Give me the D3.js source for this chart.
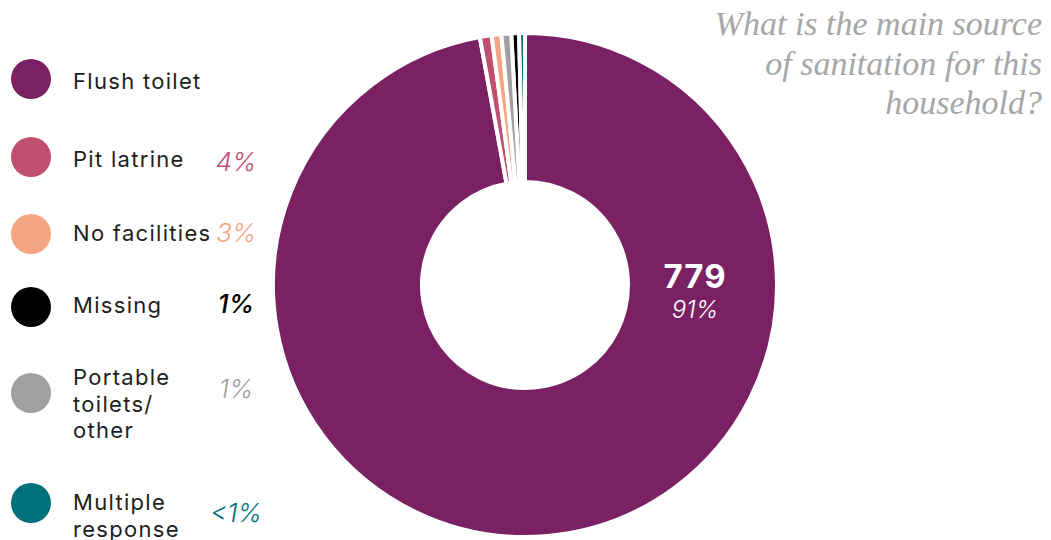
<!DOCTYPE html>
<html>
<head>
<meta charset="utf-8">
<title>Main source of sanitation</title>
<script src="https://cdn.jsdelivr.net/npm/d3@7"></script>
<style>
  body { margin: 0; background: #fff; }
  svg { display: block; }
  .lbl { font-family: Inter, "Noto Sans", sans-serif; font-size: 22px; letter-spacing: 1.3px; fill: #1e1e1e; }
  .pct { font-family: Inter, "Noto Sans", sans-serif; font-size: 26px; font-style: italic; font-weight: 300; }
  .title { font-family: "Liberation Serif", serif; font-style: italic; font-size: 34px; fill: #a6a6a6; }
</style>
</head>
<body>
<script>
// chart data
const categories = ['Flush toilet', 'Pit latrine', 'No facilities', 'Missing', 'Portable toilets/ other', 'Multiple response'];
const labelLines = [['Flush toilet'], ['Pit latrine'], ['No facilities'], ['Missing'], ['Portable', 'toilets/', 'other'], ['Multiple', 'response']];
const counts = [779, 6, 5, 4, 5, 3];
const pctLabels = ['91%', '4%', '3%', '1%', '1%', '<1%'];
const colors = ['#7a2163', '#c0506f', '#f5a582', '#000000', '#a0a0a0', '#00707a'];
// order the slices run clockwise from 12 o'clock
const sliceOrder = ['Flush toilet', 'Pit latrine', 'No facilities', 'Portable toilets/ other', 'Missing', 'Multiple response'];
const titleLines = ['What is the main source', 'of sanitation for this', 'household?'];

const W = 1051, H = 540;
const svg = d3.select('body').append('svg').attr('width', W).attr('height', H);

const data = categories.map((c, i) => ({ name: c, value: counts[i], color: colors[i], pct: pctLabels[i], lines: labelLines[i] }));

// donut
const cx = 525, cy = 285;
const pie = d3.pie()
  .sort((a, b) => sliceOrder.indexOf(a.name) - sliceOrder.indexOf(b.name))
  .value(d => d.value);
const arc = d3.arc().innerRadius(103).outerRadius(252);

const g = svg.append('g').attr('transform', `translate(${cx},${cy})`);
g.selectAll('path')
  .data(pie(data))
  .join('path')
  .attr('d', arc)
  .attr('fill', d => d.data.color)
  .attr('stroke', '#fff')
  .attr('stroke-width', 4);

// big label on the flush slice, right side of the ring
const labelArc = d3.arc().innerRadius(170).outerRadius(170);
const lp = labelArc.centroid({ startAngle: Math.PI / 2, endAngle: Math.PI / 2 });
g.append('text')
  .attr('x', lp[0]).attr('y', lp[1] + 3)
  .attr('text-anchor', 'middle')
  .style('font-family', 'Inter, "Noto Sans", sans-serif')
  .style('font-weight', 700)
  .style('font-size', '33px')
  .style('letter-spacing', '1px')
  .style('fill', '#fff')
  .text(counts[0]);
g.append('text')
  .attr('x', lp[0]).attr('y', lp[1] + 33)
  .attr('text-anchor', 'middle')
  .style('font-family', 'Inter, "Noto Sans", sans-serif')
  .style('font-style', 'italic')
  .style('font-weight', 300)
  .style('font-size', '24px')
  .style('fill', '#fff')
  .text(pctLabels[0]);

// legend
const legendY = [79, 157, 234, 307, 393, 503];
const textY = [89, 167, 241, 313, 385, 510];
const pctY = [0, 171, 242, 313, 398, 522];

const leg = svg.append('g');
const items = leg.selectAll('g')
  .data(data)
  .join('g');

items.append('circle')
  .attr('cx', 31)
  .attr('cy', (d, i) => legendY[i])
  .attr('r', 20)
  .attr('fill', d => d.color);

items.append('text')
  .attr('class', 'lbl')
  .attr('x', 73)
  .attr('y', (d, i) => textY[i])
  .selectAll('tspan')
  .data(d => d.lines)
  .join('tspan')
  .attr('x', 73)
  .attr('dy', (d, i) => i === 0 ? 0 : 26.5)
  .text(d => d);

items.filter((d, i) => i > 0)
  .append('text')
  .attr('class', 'pct')
  .attr('x', 236)
  .attr('y', d => pctY[categories.indexOf(d.name)])
  .attr('text-anchor', 'middle')
  .style('fill', d => d.color)
  .style('font-weight', d => d.name === 'Missing' ? 500 : 300)
  .text(d => d.pct);

// question title
svg.append('text')
  .attr('class', 'title')
  .attr('text-anchor', 'end')
  .selectAll('tspan')
  .data(titleLines)
  .join('tspan')
  .attr('x', 1042)
  .attr('y', (d, i) => 35 + i * 39.5)
  .text(d => d);
</script>
</body>
</html>
